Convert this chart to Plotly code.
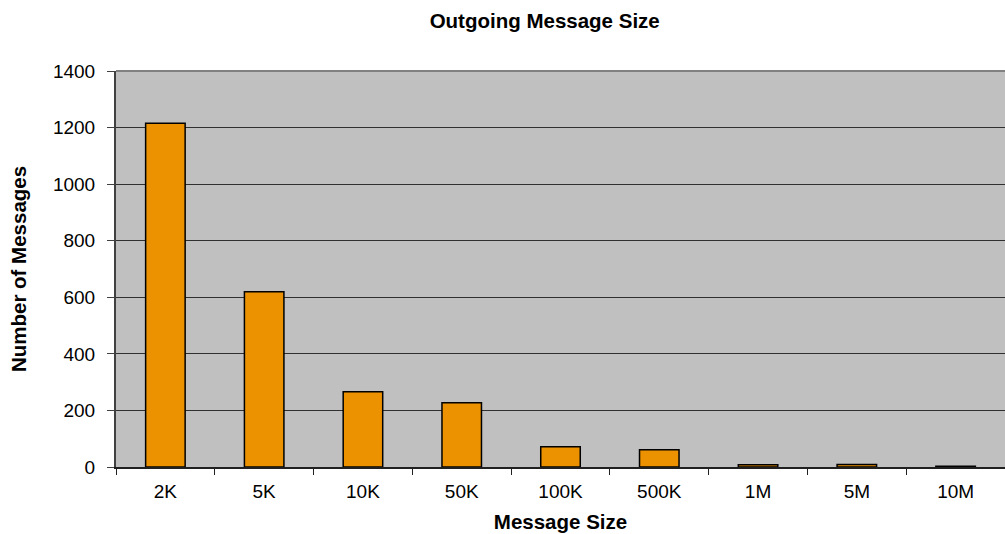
import plotly.graph_objects as go

categories = ["2K", "5K", "10K", "50K", "100K", "500K", "1M", "5M", "10M"]
values = [1215, 620, 266, 227, 72, 61, 8, 9, 3]

fig = go.Figure()
fig.add_trace(go.Bar(
    x=categories, y=values, width=0.4,
    marker=dict(color="#EC9100", line=dict(color="#000000", width=1.5)),
))

font = "Liberation Sans, Arial, sans-serif"
fig.update_layout(
    width=1005, height=534,
    margin=dict(l=116, r=0, t=71, b=67),
    paper_bgcolor="white", plot_bgcolor="#C0C0C0",
    showlegend=False,
    font=dict(family=font, color="black", size=19),
    title=dict(text="<b>Outgoing Message Size</b>", x=0.542, xanchor="center",
               y=1 - 21/534, yanchor="middle", font=dict(size=20.5)),
    bargap=0.6,
)
fig.update_xaxes(
    type="category", showline=True, linecolor="#202020", linewidth=1.5,
    ticks="outside", tickson="boundaries", ticklen=6, tickcolor="#202020",
    showgrid=False, ticklabelstandoff=6,
    title=dict(text="<b>Message Size</b>", font=dict(size=20.5), standoff=14),
    tickfont=dict(size=19),
)
fig.update_yaxes(
    range=[0, 1400], dtick=200, showline=True, linecolor="#404040", linewidth=2,
    ticks="outside", ticklen=7, tickcolor="#404040",
    showgrid=True, gridcolor="#303030", gridwidth=1, zeroline=False,
    ticklabelstandoff=8,
    title=dict(text="<b>Number of Messages</b>", font=dict(size=20.5), standoff=21),
    tickfont=dict(size=19),
)
fig.add_shape(type="line", xref="paper", yref="paper", x0=0, x1=1, y0=1, y1=1,
              line=dict(color="#808080", width=2))
fig.write_html("out.html")
